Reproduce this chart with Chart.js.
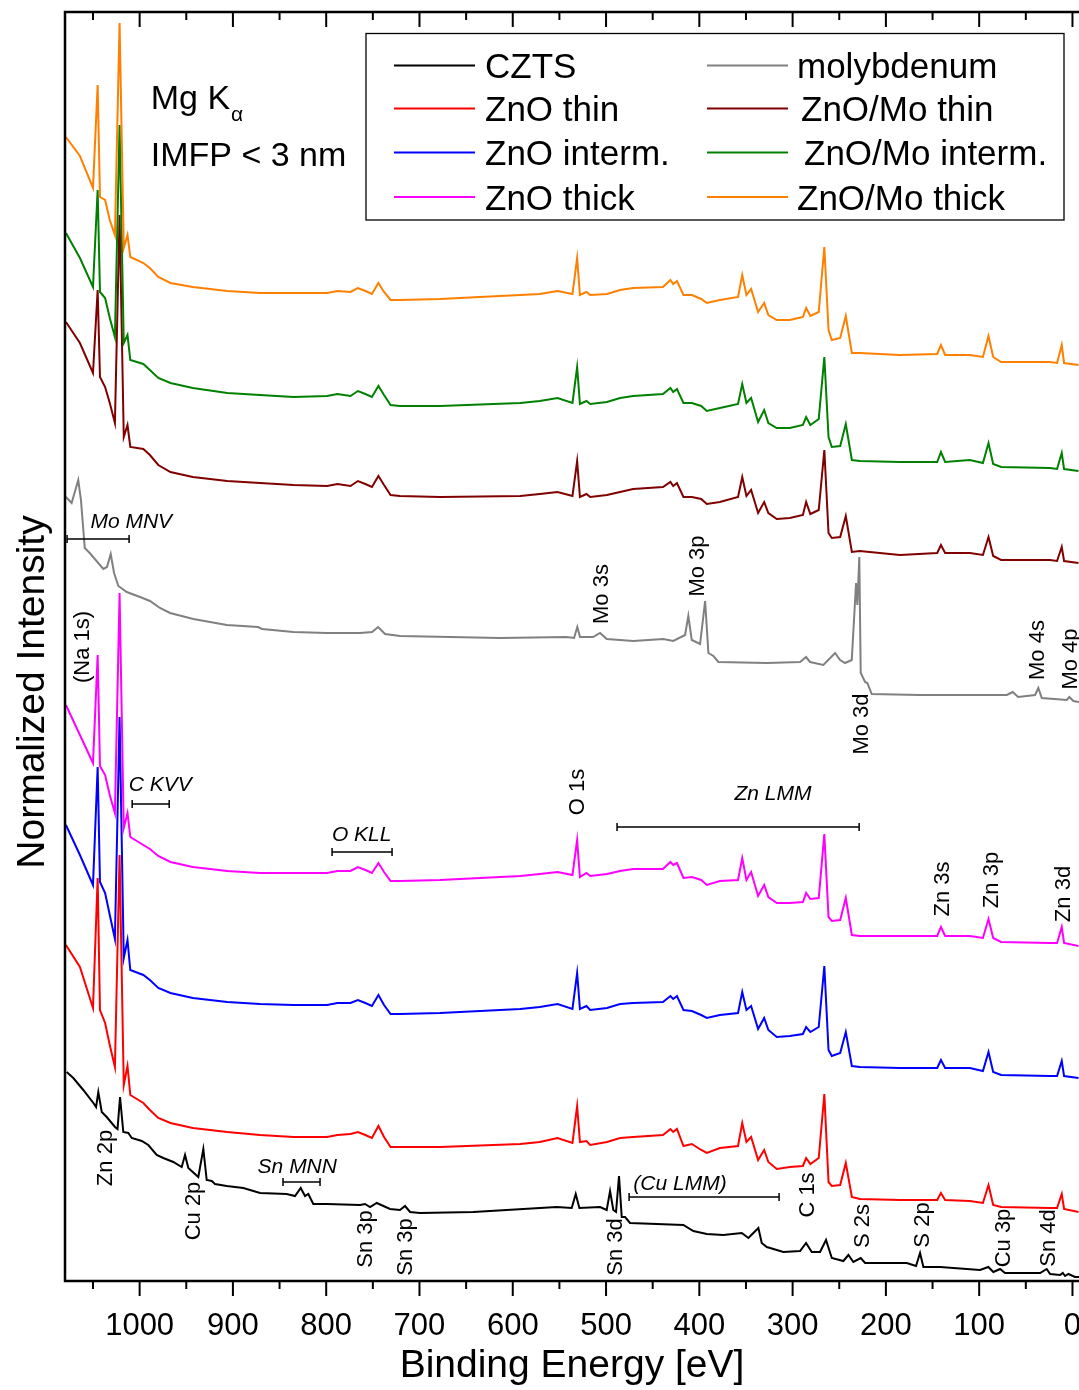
<!DOCTYPE html>
<html>
<head>
<meta charset="utf-8">
<title>XPS survey spectra</title>
<script src="https://cdn.jsdelivr.net/npm/chart.js@4.4.1/dist/chart.umd.min.js"></script>
<style>
html,body{margin:0;padding:0;background:#fff;overflow:hidden;}
canvas{display:block;}
</style>
</head>
<body>
<canvas id="xps" width="1079" height="1390"></canvas>
<script>
// ---------------- DATA ----------------
// Shared binding-energy grid (eV) of the six ZnO-type spectra
const energyZnO = [1079,1064,1050,1045,1042.5,1037,1032,1026.5,1021.5,1017,1013,1010,996,989,980,967,943,906,871,835,799,788,774,766,758,751,744,738,731,721,678,592,571,552,536,531,528,521,517,499,485,471,439,431,428,424,417,408,398,392,378,358.5,354,349.5,344.5,337,330.5,326,317,303,289,285.5,281,272,266,261.5,258,249,243,236.5,228,185,145,141,136.5,110,96,90,85,76.5,24,16.5,11.5,9,-6.5];

const znoThin = [336,314,273,403,271,258,236,214,426,196,215,186,178,171,163,158,153,149,146,144,144,146,147,149,146,143,155,144,134,134,134,137,139,143,138,175,139,140,136,139,143,144,146,152,149,152,135,137,131,128,133,135,158,139,144,121,131,119,112,114,115,123,117,123,187,99,95,96,118,84,82,81,81,88,81,80,78,96,76,74,73,73,87,72,69];

const znoInterm = [456,426,396,514,399,388,366,342,564,323,341,311,306,301,293,288,283,279,277,276,276,278,278,281,278,275,286,276,267,267,268,272,274,277,272,308,272,275,271,273,277,278,279,285,282,285,271,270,266,263,266,268,289,271,275,252,263,251,244,245,247,254,249,254,315,231,225,228,249,215,214,213,213,221,213,213,210,229,209,206,205,205,220,205,203];

const znoThick = [576,546,518,626,515,506,486,468,688,453,468,444,436,432,425,419,414,410,408,408,408,410,410,414,411,408,418,409,400,400,401,405,407,409,406,441,404,408,405,407,410,412,412,419,416,418,403,404,401,396,400,401,423,401,409,385,396,384,378,378,379,388,382,383,447,364,360,361,383,346,345,345,345,354,345,345,343,362,343,339,338,338,354,338,335];

const znoMoThin = [959,938,908,991,904,894,878,858,1066,844,856,834,832,826,816,809,804,800,798,796,795,797,795,800,797,794,805,796,786,785,784,785,787,789,785,820,784,787,784,786,789,792,794,799,795,798,784,784,782,777,779,784,804,785,791,768,779,768,762,763,766,779,767,771,831,748,743,744,765,729,730,726,728,736,728,728,726,744,725,721,721,720,734,720,718];

const znoMoInterm = [1048,1023,994,1091,989,983,963,944,1156,938,946,921,917,911,903,898,893,888,886,884,885,887,885,890,887,884,895,886,876,875,875,878,880,883,878,914,877,880,877,879,883,885,887,893,889,892,878,878,875,870,873,877,897,878,883,859,871,858,853,853,856,864,856,862,924,844,834,835,857,821,820,819,819,829,819,821,818,838,817,814,813,812,828,812,810];

const znoMoThick = [1144,1125,1093,1196,1084,1081,1061,1046,1258,1033,1046,1024,1018,1013,1004,998,994,990,988,988,988,990,989,993,990,987,998,989,981,981,982,986,987,990,987,1023,986,989,986,987,991,993,994,1001,997,1000,986,986,982,978,981,984,1006,986,992,969,978,966,961,961,964,973,965,969,1034,951,941,943,965,928,928,926,927,936,926,926,924,945,924,919,919,918,936,918,916];

// Molybdenum reference spectrum
const moEnergy = [1079,1072.9,1065.8,1062.9,1058.8,1053.5,1038.9,1035,1031,1027.4,1022.8,1013.8,999.6,988.9,978.2,967.4,942.4,906.6,873.1,868.8,835.2,799.4,763.7,750.8,744.4,736.9,720.8,613.6,542.1,534.3,530.8,527.9,521.4,513.9,506.4,499.2,470.7,438.6,427.9,415.3,411.8,408.1,399.2,393.8,390.3,384.9,379.6,327.7,292,285.6,281.3,267,254.5,249.1,243.8,236.6,232,230.6,228.5,227,222.3,219.9,215.2,163.4,70.4,64,58.3,40.1,36.6,32.9,6.1,3.3,-1,-7];
const moIntensity = [784,778,801,781,733,728,712,714,727,708,695,689,684,680,673,668,662,656,654,652,649,648,648,649,654,647,645,643,644,643,654,644,644,644,648,642,640,642,640,646,665,641,637,680,628,625,619,618,619,624,619,616,628,621,618,621,698,676,724,608,599,598,587,586,586,589,584,586,593,583,581,584,580,579];

// CZTS absorber spectrum
const cztsEnergy = [1078.2,1071.1,1060.4,1049.6,1046.7,1044.3,1040.6,1035.3,1026.4,1023.7,1021,1017.5,1012.1,1008.5,997.7,990.7,981.7,974.6,963.9,954.9,951.3,947.8,937.1,931.7,928.1,922.7,919.2,906.6,888.8,870.9,842.3,833.4,827.3,822.7,819.2,813.8,799.4,763.7,758.4,753,745.8,731.6,720.9,715.5,710.1,699.4,642.3,570.8,552.9,536.8,532.5,528.6,506.4,499.3,495.7,492.2,489.3,486.1,483.2,479.6,474.3,417.1,406.4,392,374.3,354.5,347.4,342.1,336.7,333.1,327.7,309.9,292,285.6,279.5,270.6,264.2,258,245.6,240.2,234.9,227,222.3,177.6,167.7,163.4,159.8,141.9,113.3,99.1,90.2,84.8,77.6,72.3,34.7,27.6,24,13.3,10.4,7.9,4.4,-2.8,-7];
const cztsIntensity = [209,203,191,178,174,189,169,164,154,152,184,149,148,143,140,136,126,123,119,114,126,113,104,132,101,100,97,95,93,88,87,85,93,85,87,77,77,76,77,74,78,72,71,75,69,68,69,73,74,73,87,73,74,71,90,71,69,105,64,64,58,56,50,47,46,48,43,48,53,38,34,29,30,38,29,29,41,23,20,26,19,23,18,18,15,28,14,14,12,11,14,9,12,8,8,12,7,6,8,5,7,4,4];

const seriesNames = ['CZTS','ZnO thin','ZnO interm.','ZnO thick','molybdenum','ZnO/Mo thin','ZnO/Mo interm.','ZnO/Mo thick'];
const seriesColors = ['#000000','#ff0000','#0000ff','#ff00ff','#808080','#800000','#008000','#ff8000'];

// Peak assignments (vertical labels): [text, energy, intensity]
const peakLabels = [
  ['(Na 1s)',1062.8,634],['Mo 3s',506.4,687],['Mo 3p',403.5,715],['Mo 3d',227.7,557],
  ['Mo 4s',39.0,631],['Mo 4p',3.6,622],['O 1s',532.5,489],['Zn 3s',140.9,392],
  ['Zn 3p',88.4,401],['Zn 3d',11.1,387],['Zn 2p',1038.2,123],['Cu 2p',943.8,70],
  ['Sn 3p',759.4,42],['Sn 3p',716.6,34],['Sn 3d',491.3,34],['C 1s',285.2,86],
  ['S 2s',226.1,55],['S 2p',162.3,56],['Cu 3p',75.5,43],['Sn 4d',27.2,43]
];
// Auger ranges: [text, textEnergy, textIntensity, fromEnergy, toEnergy, barIntensity]
const augerLabels = [
  ['Mo MNV',1009,761,1077.8,1011.3,742],
  ['C KVV',978,498,1008,968.3,477],
  ['O KLL',762,448,793.7,729.4,429],
  ['Zn LMM',321,489,488.2,228.7,454],
  ['Sn MNN',831,116,846.3,806.6,99],
  ['(Cu LMM)',420.7,99,475.3,314.5,84]
];

// ---------------- CHART ----------------
const FONT = '"Liberation Sans", Arial, Helvetica, sans-serif';
const pairs = (xs, ys) => xs.map((e, i) => ({x: e, y: ys[i]}));
const seriesData = [
  pairs(cztsEnergy, cztsIntensity),
  pairs(energyZnO, znoThin),
  pairs(energyZnO, znoInterm),
  pairs(energyZnO, znoThick),
  pairs(moEnergy, moIntensity),
  pairs(energyZnO, znoMoThin),
  pairs(energyZnO, znoMoInterm),
  pairs(energyZnO, znoMoThick)
];
const drawOrder = [7, 6, 5, 4, 3, 2, 1, 0];

const overlay = {
  id: 'overlay',
  afterDraw(chart) {
    const {ctx, chartArea: a, scales: {x, y}} = chart;
    const X = e => x.getPixelForValue(e), Y = v => y.getPixelForValue(v);
    ctx.save();
    ctx.fillStyle = '#000'; ctx.strokeStyle = '#000';
    // frame
    ctx.lineWidth = 2.5;
    ctx.beginPath();
    ctx.moveTo(a.right + 2, a.top); ctx.lineTo(a.left, a.top);
    ctx.lineTo(a.left, a.bottom); ctx.lineTo(a.right + 2, a.bottom);
    ctx.stroke();
    // ticks: outward at bottom, inward at top
    ctx.lineWidth = 2;
    ctx.beginPath();
    x.ticks.forEach(t => {
      const p = X(t.value);
      const len = t.value % 100 === 0 ? 15 : 8;
      ctx.moveTo(p, a.bottom); ctx.lineTo(p, a.bottom + len);
      ctx.moveTo(p, a.top); ctx.lineTo(p, a.top + len);
    });
    ctx.stroke();

    // peak labels (rotated)
    const fs = 22;
    ctx.font = `${fs}px ${FONT}`;
    ctx.textAlign = 'center'; ctx.textBaseline = 'alphabetic';
    peakLabels.forEach(([t, e, v]) => {
      ctx.save();
      ctx.translate(X(e) + 0.36 * fs, Y(v));
      ctx.rotate(-Math.PI / 2);
      ctx.fillText(t, 0, 0);
      ctx.restore();
    });
    // Auger labels with range bars
    const fi = 21;
    ctx.font = `italic ${fi}px ${FONT}`;
    ctx.lineWidth = 1.5;
    augerLabels.forEach(([t, te, tv, e1, e2, bv]) => {
      ctx.fillText(t, X(te), Y(tv) + 0.36 * fi);
      const p1 = X(e1), p2 = X(e2), py = Y(bv);
      ctx.beginPath();
      ctx.moveTo(p1, py); ctx.lineTo(p2, py);
      ctx.moveTo(p1, py - 4); ctx.lineTo(p1, py + 4);
      ctx.moveTo(p2, py - 4); ctx.lineTo(p2, py + 4);
      ctx.stroke();
    });

    // Mg K alpha / IMFP note
    ctx.textAlign = 'left';
    ctx.font = `34px ${FONT}`;
    const mx = X(988.1), my = Y(1172);
    ctx.fillText('Mg K', mx, my);
    const w = ctx.measureText('Mg K').width;
    ctx.font = `21px ${FONT}`;
    ctx.fillText('\u03B1', mx + w + 1, my + 12);
    ctx.font = `34px ${FONT}`;
    ctx.fillText('IMFP < 3 nm', mx, Y(1115));

    // legend
    ctx.lineWidth = 1.3;
    ctx.strokeRect(366, 33.5, 698, 186.5);
    const rows = [65.5, 108.5, 152.5, 197];
    const lineX = [[394, 475], [707, 788]];
    const textX = [[485, 485, 485, 485], [797, 801, 804, 797]];
    ctx.font = `35px ${FONT}`;
    chart.data.datasets.forEach((ds, i) => {
      const c = Math.floor(i / 4), r = i % 4;
      ctx.strokeStyle = ds.borderColor; ctx.lineWidth = 2;
      ctx.beginPath();
      ctx.moveTo(lineX[c][0], rows[r]); ctx.lineTo(lineX[c][1], rows[r]);
      ctx.stroke();
      ctx.fillStyle = '#000';
      ctx.fillText(ds.label, textX[c][r], rows[r] + 0.358 * 35);
    });

    // y-axis title
    ctx.font = `39px ${FONT}`;
    ctx.textAlign = 'center';
    ctx.save();
    ctx.translate(44, 692);
    ctx.rotate(-Math.PI / 2);
    ctx.fillText('Normalized Intensity', 0, 0);
    ctx.restore();
    ctx.restore();
  }
};

new Chart(document.getElementById('xps'), {
  type: 'line',
  data: {
    datasets: seriesData.map((d, i) => ({
      label: seriesNames[i],
      data: d,
      borderColor: seriesColors[i],
      backgroundColor: seriesColors[i],
      borderWidth: 2,
      pointRadius: 0,
      tension: 0,
      fill: false,
      order: drawOrder[i]
    }))
  },
  options: {
    responsive: false,
    animation: false,
    devicePixelRatio: 1,
    layout: {padding: {left: 65, top: 12, right: 0, bottom: 0}},
    plugins: {legend: {display: false}, tooltip: {enabled: false}},
    scales: {
      x: {
        type: 'linear',
        reverse: true,
        min: -7,
        max: 1080,
        grid: {display: false, drawTicks: true, tickLength: 15},
        border: {display: false},
        ticks: {
          stepSize: 50,
          includeBounds: false,
          autoSkip: false,
          maxRotation: 0,
          padding: 12,
          color: '#000',
          font: {family: FONT, size: 31},
          callback: v => (v % 100 === 0 ? String(v) : '')
        },
        title: {
          display: true,
          text: 'Binding Energy [eV]',
          color: '#000',
          font: {family: FONT, size: 39},
          padding: {top: 0, bottom: 0}
        },
        afterFit: s => { s.height = 109; s.paddingLeft = 0; s.paddingRight = 0; }
      },
      y: {
        display: false,
        min: 0,
        max: 1269
      }
    }
  },
  plugins: [overlay]
});
</script>
</body>
</html>
